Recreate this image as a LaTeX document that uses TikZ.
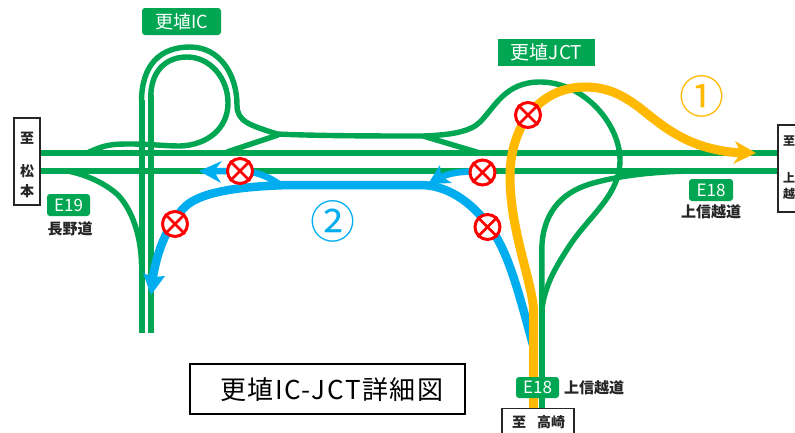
\documentclass[tikz,border=0pt]{standalone}
\usepackage{fontspec}
\setmainfont{Noto Sans CJK JP}
\definecolor{road}{RGB}{0,166,81}
\definecolor{ylw}{RGB}{255,185,0}
\definecolor{blu}{RGB}{0,174,239}
\newcommand{\fs}[1]{\fontsize{#1}{#1}\selectfont}
\tikzset{
  road/.style={draw=road,line width=6pt,line join=round},
  ramp/.style={draw=road,line width=5.4pt,line join=round},
  yroute/.style={draw=ylw,line width=9pt,line join=round},
  broute/.style={draw=blu,line width=8.5pt,line join=round},
  bbranch/.style={draw=blu,line width=6.5pt,line join=round},
  noentry/.style={circle,draw=red,fill=white,line width=3pt,minimum size=25pt,inner sep=0pt},
  roundsign/.style={fill=road,rounded corners=3pt,text=white,inner sep=0pt,align=center},
  squaresign/.style={fill=road,text=white,inner sep=0pt,align=center},
  placebox/.style={draw=black!85,line width=1.2pt,fill=white,inner sep=0pt},
  lab/.style={text=black!85,inner sep=0pt,font=\fs{15}\bfseries},
  dest/.style={text=black!85,inner sep=0pt,font=\fs{14}\bfseries},
  numeral/.style={inner sep=0pt,font=\fs{45}}
}
\begin{document}
\begin{tikzpicture}[x=1pt,y=-1pt]
\useasboundingbox (0,0) rectangle (795,432);
\fill[white] (0,0) rectangle (795,432);
\begin{scope}
\clip (0,0) rectangle (795,432);
% main line
\path[road] (40,153) -- (778,153);
\path[road] (40,171) -- (778,171);
% IC
\path[road] (141.5,333) -- (141.5,100);
\path[road] (150.8,333) -- (150.8,95);
\path[ramp] (141.5,102) .. controls (141.5,65) and (160,47) .. (190,47) .. controls (220,47) and (237,75) .. (237,105) .. controls (237,122) and (250,125) .. (277,134);
\path[ramp] (150.8,97) .. controls (150.8,72) and (165,57) .. (187,57) .. controls (210,57) and (228,78) .. (228,103) .. controls (228,128) and (208,145) .. (180,146) .. controls (165,146) and (150,144) .. (130,144) .. controls (110,144) and (105,145) .. (88,152.5);
\path[ramp] (227,152) -- (278,135);
\path[ramp] (65,170.5) .. controls (85,174) and (105,183) .. (118,195) .. controls (132,210) and (141,235) .. (141.5,265);
% link and JCT
\path[ramp] (277,134) .. controls (320,136) and (380,136) .. (423,136) .. controls (450,135) and (470,132) .. (480,122) .. controls (495,107) and (505,82) .. (540,82) .. controls (585,82) and (620,125) .. (620,160) .. controls (620,195) and (590,215) .. (570,245) .. controls (555,268) and (545,285) .. (541.8,310);
\path[ramp] (423,136) -- (480,153);
\path[road] (541.8,300) -- (541.8,410);
\path[ramp] (700,171) .. controls (660,171) and (620,175) .. (590,184) .. controls (560,193) and (542,215) .. (541.8,250) -- (541.8,305);
% blue routes
\path[broute] (533,345) .. controls (522,305) and (512,265) .. (498,240) .. controls (483,213) and (455,185) .. (420,185) -- (290,185) .. controls (250,186) and (205,190) .. (187,205) .. controls (172,218) and (158,245) .. (153,277);
\fill[blu] (151,295) -- (143,273) -- (153,277) -- (165,276) -- cycle;
\path[bbranch] (440,177.5) .. controls (450,173) and (460,171.5) .. (475,171.5);
\fill[blu] (428,184) -- (440,165) -- (441,176) -- (452,183) -- cycle;
\path[bbranch] (282,186) .. controls (268,176) and (255,171) .. (240,171) -- (212,171);
\fill[blu] (199,171) -- (222,161) -- (214,171) -- (221,183) -- cycle;
% yellow route
\path[yroute] (533.5,410) -- (533.5,310) .. controls (533,285) and (510,230) .. (510,177) .. controls (510,125) and (540,87) .. (585,87) .. controls (610,87) and (625,97) .. (640,108) .. controls (665,128) and (690,150) .. (742,153);
\fill[ylw] (756,153) -- (735,141) -- (741,153) -- (733,164) -- cycle;
% no-entry marks
\foreach \n/\x/\y in {a/240/171,b/482.5/172.5,c/528/115,d/487.5/227,e/175/224}{
  \node[noentry] (\n) at (\x,\y) {};
  \draw[red,line width=2.6pt] (\n.45) -- (\n.225) (\n.135) -- (\n.315);
}
% numerals
\node[numeral,text=ylw] (one) at (702,96) {①};
\node[numeral,text=blu] (two) at (333,221) {②};
% signs
\node[roundsign,minimum width=79pt,minimum height=27pt,font=\fs{18}] (ic) at (181.5,21.5) {更埴IC};
\node[squaresign,minimum width=97pt,minimum height=27pt,font=\fs{19}] (jct) at (546.5,52.5) {更埴JCT};
\node[roundsign,minimum width=43pt,minimum height=22pt,font=\fs{17}] (e19) at (68.5,205) {E19};
\node[lab] (nagano) at (70,229) {長野道};
\node[roundsign,minimum width=44pt,minimum height=22pt,font=\fs{17}] (e18r) at (711,190) {E18};
\node[lab] (joshinr) at (711,212) {上信越道};
\node[roundsign,minimum width=43pt,minimum height=21pt,font=\fs{17}] (e18b) at (537.5,387.5) {E18};
\node[lab,anchor=west] (joshinb) at (564,388) {上信越道};
% place boxes
\node[placebox,minimum width=26pt,minimum height=87pt] (matsumoto) at (27,161.5) {};
\node[dest] (m1) at (27,138) {至};
\node[dest] (m2) at (27,171) {松};
\node[dest] (m3) at (27,191) {本};
\draw[placebox] (810,125) -- (778,125) -- (778,212) -- (810,212);
\node[dest,anchor=west,font=\fs{12}\bfseries] (r1) at (783,141) {至};
\node[dest,anchor=west,font=\fs{12}\bfseries] (r2) at (783,178) {上};
\node[dest,anchor=west,font=\fs{12}\bfseries] (r3) at (783,194) {越};
\draw[placebox] (502,440) -- (502,408.5) -- (574,408.5) -- (574,440);
\node[dest] (t1) at (519,422) {至};
\node[dest] (t2) at (551,422) {高崎};
% caption
\node[draw=black,line width=1.5pt,fill=white,minimum width=275pt,minimum height=50pt,inner sep=0pt] (capbox) at (327.5,389) {};
\node[anchor=west,inner sep=0pt,font=\fs{26}\addfontfeature{LetterSpace=6}] (cap) at (220,390) {更埴IC-JCT詳細図};
\end{scope}
\end{tikzpicture}
\end{document}
